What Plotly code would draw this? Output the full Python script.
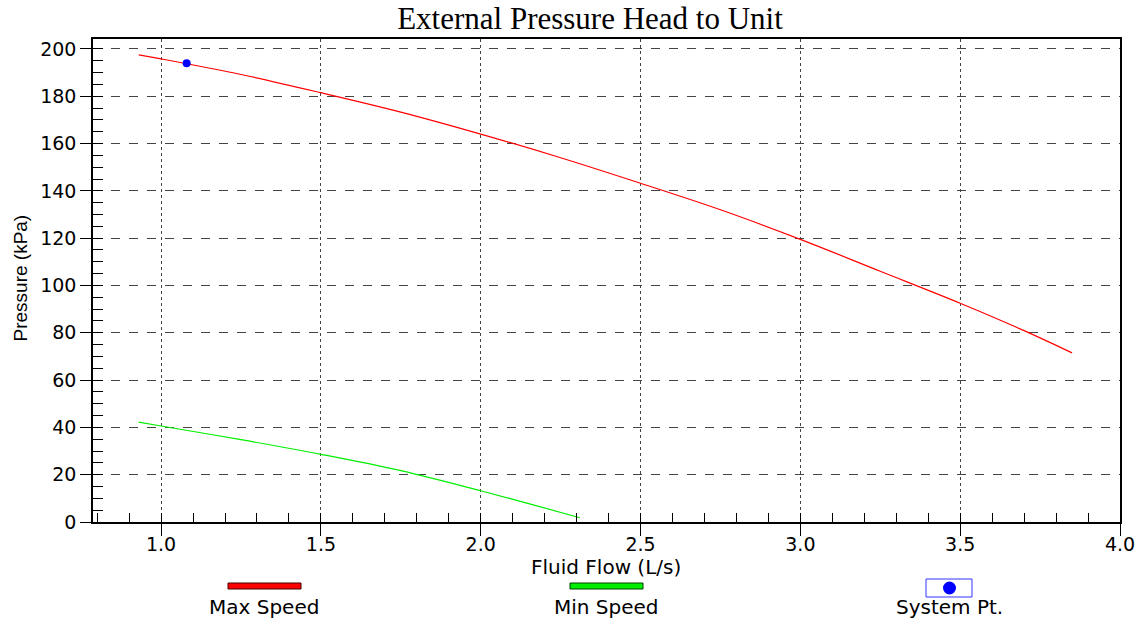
import plotly.graph_objects as go

# ---- data ----
max_flow = [0.93, 1.0, 1.25, 1.5, 1.75, 2.0, 2.25, 2.5, 2.75, 3.0, 3.25, 3.5, 3.7, 3.85]
max_press = [197.5, 195.8, 189.2, 181.5, 173.3, 164.0, 154.0, 143.2, 132.0, 119.5, 106.0, 92.5, 80.9, 71.5]
min_flow = [0.93, 1.0, 1.25, 1.5, 1.75, 2.0, 2.15, 2.31]
min_press = [42.2, 40.6, 34.8, 28.6, 21.7, 13.2, 7.8, 1.8]
sys_flow = [1.08]
sys_press = [194.0]
legend_names = ["Max Speed", "Min Speed", "System Pt."]
x_title = "Fluid Flow (L/s)"
y_title = "Pressure (kPa)"
chart_title = "External Pressure Head to Unit"

W, H = 1143, 622
L, R, T, B = 93, 1120, 39, 522   # plot area in page pixels

fig = go.Figure()
fig.add_trace(go.Scatter(x=max_flow, y=max_press, mode="lines",
                         line=dict(color="#ff0000", width=1.2, shape="spline"), name=legend_names[0]))
fig.add_trace(go.Scatter(x=min_flow, y=min_press, mode="lines",
                         line=dict(color="#00ee00", width=1.2, shape="spline"), name=legend_names[1]))
fig.add_trace(go.Scatter(x=sys_flow, y=sys_press, mode="markers",
                         marker=dict(color="#0000ff", size=8), name=legend_names[2]))

def px(xp):
    return (xp - L) / (R - L)
def py(yp):
    return (B - yp) / (B - T)

SANS = "DejaVu Sans, Verdana, Arial"
shapes = []
annotations = []
# custom legend (swatch above text)
shapes.append(dict(type="rect", xref="paper", yref="paper", x0=px(228), x1=px(301), y0=py(589), y1=py(583),
                   fillcolor="#ff0000", line=dict(color="#400000", width=1)))
shapes.append(dict(type="rect", xref="paper", yref="paper", x0=px(570), x1=px(643), y0=py(589), y1=py(583),
                   fillcolor="#00ee00", line=dict(color="#004000", width=1)))
shapes.append(dict(type="rect", xref="paper", yref="paper", x0=px(926), x1=px(972), y0=py(597), y1=py(579),
                   fillcolor="rgba(0,0,0,0)", line=dict(color="#3333ff", width=1)))
shapes.append(dict(type="circle", xref="paper", yref="paper", x0=px(943), x1=px(956), y0=py(594.5), y1=py(581.5),
                   fillcolor="#0000ff", line=dict(color="#0000ff", width=0)))
for name, cx in zip(legend_names, [264, 606, 949]):
    annotations.append(dict(text=name, xref="paper", yref="paper", x=px(cx), y=py(607),
                            xanchor="center", yanchor="middle", showarrow=False,
                            font=dict(family=SANS, size=20, color="#000")))
# axis titles
annotations.append(dict(text=x_title, xref="paper", yref="paper", x=px(606), y=py(567),
                        xanchor="center", yanchor="middle", showarrow=False,
                        font=dict(family=SANS, size=20, color="#000")))
annotations.append(dict(text=y_title, xref="paper", yref="paper", x=px(20), y=py(278.5),
                        xanchor="center", yanchor="middle", showarrow=False, textangle=-90,
                        font=dict(family="Liberation Sans, Arial", size=19, color="#000")))

fig.update_layout(
    width=W, height=H,
    margin=dict(l=L, r=W - R, t=T, b=H - B),
    paper_bgcolor="white", plot_bgcolor="white",
    showlegend=False,
    title=dict(text=chart_title, x=590 / W, xanchor="center",
               y=1 - 18 / H, yanchor="middle",
               font=dict(family="Liberation Serif, Times New Roman", size=31, color="#000")),
    shapes=shapes, annotations=annotations,
    font=dict(family=SANS, size=19, color="#000"),
)
fig.update_xaxes(
    automargin=False,
    range=[0.787, 4.0], tick0=0, dtick=0.5, tickformat=".1f",
    ticks="outside", ticklen=12, tickcolor="#000", tickwidth=1, ticklabelstandoff=-8,
    minor=dict(dtick=0.1, tick0=0, ticks="inside", ticklen=9, tickcolor="#000", showgrid=False),
    showgrid=True, gridcolor="#444", griddash="dot", gridwidth=1,
    showline=True, linecolor="#000", linewidth=1.5, mirror=True, zeroline=False,
    tickfont=dict(family=SANS, size=19),
)
fig.update_yaxes(
    automargin=False,
    range=[0, 204.2], tick0=0, dtick=20,
    ticks="outside", ticklen=11, tickcolor="#000", tickwidth=1,
    minor=dict(dtick=5, tick0=0, ticks="inside", ticklen=10, tickcolor="#000", showgrid=False),
    showgrid=True, gridcolor="#444", griddash="dash", gridwidth=1,
    showline=True, linecolor="#000", linewidth=1.5, mirror=True, zeroline=False,
    tickfont=dict(family=SANS, size=19),
)
fig.write_html("out.html", config={"displayModeBar": False},
               post_script="document.body.style.margin='0px';")
